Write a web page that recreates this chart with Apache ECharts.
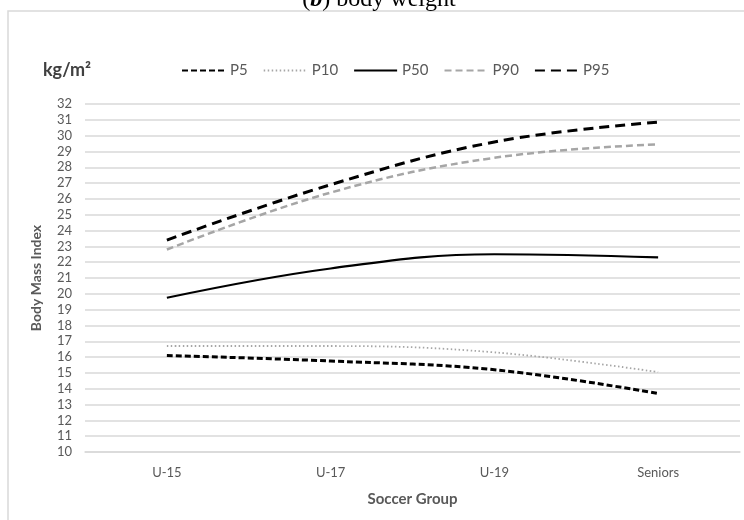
<!DOCTYPE html>
<html>
<head>
<meta charset="utf-8">
<script src="https://cdn.jsdelivr.net/npm/echarts@6/dist/echarts.min.js"></script>
<style>
    html, body { margin: 0; padding: 0; background: #fff; }
    #chart { width: 744px; height: 520px; }
</style>
</head>
<body>
<div id="chart"></div>
<script>
    // data
    var groups = ['U-15', 'U-17', 'U-19', 'Seniors'];
    var p5 = [16.1, 15.75, 15.2, 13.7];
    var p10 = [16.7, 16.7, 16.3, 15.05];
    var p50 = [19.75, 21.6, 22.5, 22.3];
    var p90 = [22.8, 26.4, 28.6, 29.45];
    var p95 = [23.4, 26.9, 29.6, 30.85];

    var font = 'Lato, "Open Sans", sans-serif';
    var grey = '#595959';

    function line(name, data, color, width, dash) {
        return {
            name: name,
            type: 'line',
            data: data,
            smooth: 0.4,
            symbol: 'none',
            lineStyle: { color: color, width: width, type: dash },
            itemStyle: { color: color }
        };
    }

    var myChart = echarts.init(document.getElementById('chart'));
    myChart.setOption({
        animation: false,
        textStyle: { fontFamily: font },
        graphic: [
            {
                type: 'rect',
                shape: { x: 8, y: 11, width: 800, height: 600 },
                style: { fill: 'none', stroke: '#d9d9d9', lineWidth: 1.5 },
                silent: true
            },
            {
                type: 'text',
                x: 379, y: 12,
                style: {
                    text: '({b|b}) body weight',
                    font: '24px "Liberation Serif", serif',
                    fill: '#000',
                    align: 'center',
                    verticalAlign: 'bottom',
                    rich: { b: { fontWeight: 'bold', fontStyle: 'italic', fontSize: 24, fontFamily: '"Liberation Serif", serif' } }
                }
            },
            {
                type: 'text',
                x: 43, y: 70,
                style: {
                    text: 'kg/m²',
                    font: 'bold 18px ' + font,
                    fill: '#404040',
                    verticalAlign: 'middle'
                }
            }
        ],
        legend: {
            left: 181,
            top: 63,
            itemWidth: 43,
            itemHeight: 8,
            itemGap: 15,
            padding: 0,
            itemStyle: { opacity: 0 },
            textStyle: { fontSize: 15, color: grey, fontFamily: font },
            data: ['P5', 'P10', 'P50', 'P90', 'P95']
        },
        grid: { left: 85, right: 4, top: 104, bottom: 68 },
        xAxis: {
            type: 'category',
            data: groups,
            boundaryGap: true,
            axisTick: { show: false },
            axisLine: { lineStyle: { color: '#d9d9d9', width: 1.5 } },
            axisLabel: { color: grey, fontSize: 13, margin: 14 },
            name: 'Soccer Group',
            nameLocation: 'middle',
            nameGap: 40,
            nameTextStyle: { color: grey, fontSize: 15, fontWeight: 'bold' }
        },
        yAxis: {
            type: 'value',
            min: 10,
            max: 32,
            interval: 1,
            axisLine: { show: false },
            axisTick: { show: false },
            splitLine: { lineStyle: { color: '#d9d9d9', width: 1.5 } },
            axisLabel: { color: grey, fontSize: 13, margin: 13 },
            name: 'Body Mass Index',
            nameLocation: 'middle',
            nameRotate: 90,
            nameGap: 42,
            nameTextStyle: { color: grey, fontSize: 14, fontWeight: 'bold' }
        },
        series: [
            line('P5', p5, '#000', 3, [6, 3]),
            line('P10', p10, '#a6a6a6', 1.8, [1.5, 2.5]),
            line('P50', p50, '#000', 2.2, 'solid'),
            line('P90', p90, '#a6a6a6', 2.5, [7, 4]),
            line('P95', p95, '#000', 3, [10, 6])
        ]
    });
</script>
</body>
</html>
